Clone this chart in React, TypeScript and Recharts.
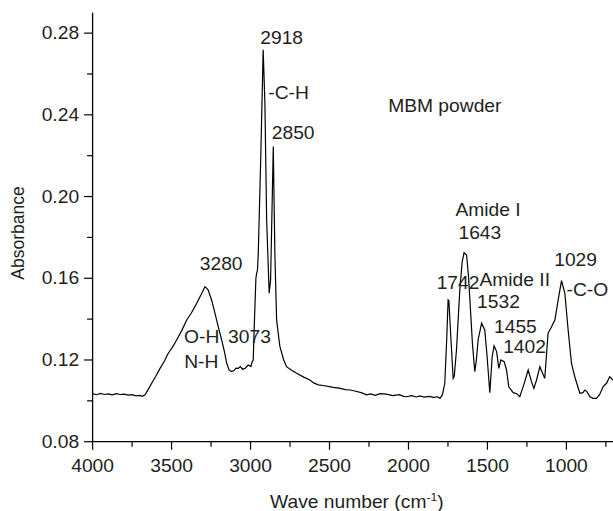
import { LineChart, Line, XAxis, YAxis, ReferenceDot, Label } from 'recharts';

// wave number (cm-1), high to low
const waveNumbers = [
  4000, 3975, 3950, 3925, 3900, 3875, 3850, 3825, 3800, 3775, 3750, 3725, 3700, 3685, 3668,
  3645, 3626, 3600, 3573, 3545, 3521, 3495, 3468, 3435, 3404, 3375, 3352, 3320, 3300, 3289,
  3278, 3268, 3245, 3225, 3205, 3183, 3165, 3151, 3135, 3120, 3105, 3092, 3078, 3065, 3050,
  3035, 3015, 2998, 2990, 2983, 2975, 2966, 2961, 2956, 2951, 2935, 2920, 2909, 2898, 2882,
  2873, 2856, 2846, 2835, 2814, 2790, 2772, 2740, 2708, 2660, 2624, 2600, 2571, 2540, 2500,
  2477, 2440, 2400, 2371, 2340, 2300, 2265, 2240, 2210, 2180, 2139, 2100, 2060, 2030, 2012,
  1980, 1950, 1928, 1900, 1870, 1840, 1815, 1801, 1785, 1770, 1758, 1749, 1744, 1732, 1717,
  1710, 1696, 1675, 1660, 1648, 1632, 1620, 1611, 1595, 1580, 1570, 1559, 1537, 1517, 1502,
  1485, 1470, 1458, 1442, 1428, 1415, 1394, 1379, 1365, 1337, 1315, 1295, 1270, 1242, 1221,
  1206, 1189, 1168, 1151, 1137, 1116, 1094, 1073, 1052, 1031, 1010, 989, 968, 947, 915,
  895, 883, 870, 851, 831, 810, 790, 768, 746, 726, 715, 707, 705,
];

const absorbance = [
  0.1035, 0.103, 0.1036, 0.1031, 0.1034, 0.1029, 0.1035, 0.1031, 0.1033, 0.1028, 0.103, 0.1024, 0.1027, 0.1022, 0.103,
  0.106, 0.1086, 0.112, 0.1159, 0.1195, 0.1233, 0.1262, 0.1298, 0.1345, 0.1396, 0.143, 0.1461, 0.151, 0.154, 0.1559,
  0.1552, 0.1542, 0.149, 0.1428, 0.1365, 0.1298, 0.124, 0.1184, 0.115, 0.1143, 0.1148, 0.116, 0.1159, 0.1168, 0.1155,
  0.1159, 0.1175, 0.1168, 0.119, 0.12, 0.14, 0.16, 0.1625, 0.164, 0.1723, 0.22, 0.2718, 0.2457, 0.1886, 0.1527,
  0.1592, 0.2245, 0.1723, 0.1396, 0.1265, 0.12, 0.1167, 0.115, 0.1135, 0.1115, 0.1102, 0.1088, 0.1078, 0.1075, 0.107,
  0.1066, 0.1062, 0.1055, 0.1053, 0.1048, 0.104, 0.1029, 0.1034, 0.1027, 0.1035, 0.1033, 0.1026, 0.103, 0.1022, 0.102,
  0.1025, 0.1019, 0.1024, 0.1018, 0.1022, 0.1017, 0.102, 0.1012, 0.103, 0.1086, 0.13, 0.1494, 0.149, 0.1314, 0.111,
  0.112, 0.1249, 0.1543, 0.168, 0.1725, 0.1714, 0.161, 0.1494, 0.128, 0.1143, 0.12, 0.1298, 0.138, 0.1347, 0.1216,
  0.104, 0.1216, 0.1269, 0.1241, 0.1159, 0.12, 0.1192, 0.1151, 0.1069, 0.104, 0.1035, 0.102, 0.1078, 0.1151, 0.1094,
  0.1061, 0.1102, 0.1167, 0.1135, 0.111, 0.1331, 0.1363, 0.1396, 0.1494, 0.1588, 0.1527, 0.1347, 0.1184, 0.1118, 0.1037,
  0.104, 0.1053, 0.1045, 0.102, 0.1012, 0.1012, 0.103, 0.1069, 0.1086, 0.1118, 0.111, 0.1102, 0.11,
];

const xTicks = [4000, 3750, 3500, 3250, 3000, 2750, 2500, 2250, 2000, 1750, 1500, 1250, 1000, 750];
const yTicks = [0.08, 0.1, 0.12, 0.14, 0.16, 0.18, 0.2, 0.22, 0.24, 0.26, 0.28];

// peak annotations, placed at (wave number, absorbance) of the text centre
const peakTexts = ['3280', 'O-H', 'N-H', '3073', '2918', '-C-H', '2850', 'MBM powder', 'Amide I', '1643', '1742', 'Amide II', '1532', '1455', '1402', '1029', '-C-O'];
const peakX = [3186, 3309, 3312, 3007, 2803, 2759, 2730, 1770, 1496, 1548, 1686, 1327, 1430, 1323, 1265, 942, 867];
const peakY = [0.167, 0.1311, 0.1189, 0.1311, 0.2775, 0.2506, 0.231, 0.2444, 0.1935, 0.182, 0.1576, 0.1592, 0.1486, 0.1363, 0.1265, 0.169, 0.1543];

const data = waveNumbers.map((w, i) => ({ wave: w, abs: absorbance[i] }));

const FONT = '"Liberation Sans", Arial, Helvetica, sans-serif';
const INK = '#231f20';
const FS = 17.5;

function Txt({ x, y, anchor = 'middle', dy, children }: any) {
  return (
    <text
      transform={`translate(${x},${y}) scale(1.1,1)`}
      textAnchor={anchor}
      dy={dy}
      fontSize={FS}
      fontFamily={FONT}
      fill={INK}
    >
      {children}
    </text>
  );
}

const BottomTick = (props: any) => {
  const { x, y, payload } = props;
  const major = payload.value % 500 === 0;
  return (
    <g>
      <line x1={x} x2={x} y1={y} y2={y + (major ? 8 : 5)} stroke="#000" strokeWidth={1.2} />
      {major && <Txt x={x} y={y + 30}>{payload.value}</Txt>}
    </g>
  );
};

const TopTick = (props: any) => {
  const { x, y, payload } = props;
  const major = payload.value % 500 === 0;
  return <line x1={x} x2={x} y1={y} y2={y + (major ? 8 : 4)} stroke="#000" strokeWidth={1.2} />;
};

const LeftTick = (props: any) => {
  const { x, y, payload } = props;
  const major = Math.round((payload.value - 0.08) / 0.02) % 2 === 0;
  return (
    <g>
      <line x1={x - (major ? 8.5 : 5.5)} x2={x} y1={y} y2={y} stroke="#000" strokeWidth={1.2} />
      {major && (
        <Txt x={x - 13.5} y={y} anchor="end" dy="0.35em">
          {payload.value.toFixed(2)}
        </Txt>
      )}
    </g>
  );
};

const XTitle = (props: any) => {
  const { x, width, y } = props.viewBox;
  return (
    <Txt x={x + width / 2 + 4} y={y + 66}>
      Wave number (cm
      <tspan dy={-7} fontSize={11}>-1</tspan>
      <tspan dy={7}>)</tspan>
    </Txt>
  );
};

const YTitle = () => (
  <text
    transform="translate(18.3,233) rotate(-90)"
    textAnchor="middle"
    dy="0.35em"
    fontSize={FS}
    fontFamily={FONT}
    fill={INK}
  >
    Absorbance
  </text>
);

export default function App() {
  return (
    <div style={{ position: 'fixed', left: 0, top: 0, width: 613, height: 511, overflow: 'hidden', background: '#fff' }}>
      <LineChart width={613} height={511} data={data} margin={{ top: 12.7, right: 0, bottom: 0, left: 0 }}>
        <XAxis
          dataKey="wave"
          type="number"
          domain={[705, 4000]}
          reversed
          allowDataOverflow
          ticks={xTicks}
          interval={0}
          height={69.3}
          tickLine={false}
          tickSize={0}
          tickMargin={0}
          tick={<BottomTick />}
          axisLine={{ stroke: '#000', strokeWidth: 1.3 }}
        >
          <Label content={<XTitle />} />
        </XAxis>
        <XAxis
          xAxisId="top"
          orientation="top"
          type="number"
          domain={[705, 4000]}
          reversed
          allowDataOverflow
          ticks={xTicks}
          interval={0}
          height={0}
          tickLine={false}
          tickSize={0}
          tickMargin={0}
          tick={<TopTick />}
          axisLine={{ stroke: '#000', strokeWidth: 1.3 }}
        />
        <YAxis
          type="number"
          domain={[0.08, 0.29]}
          allowDataOverflow
          ticks={yTicks}
          interval={0}
          width={92.6}
          tickLine={false}
          tickSize={0}
          tickMargin={0}
          tick={<LeftTick />}
          axisLine={{ stroke: '#000', strokeWidth: 1.3 }}
        >
          <Label content={<YTitle />} />
        </YAxis>
        <Line
          type="linear"
          dataKey="abs"
          stroke="#000"
          strokeWidth={1.2}
          dot={false}
          activeDot={false}
          isAnimationActive={false}
        />
        {peakTexts.map((t, i) => (
          <ReferenceDot
            key={t}
            x={peakX[i]}
            y={peakY[i]}
            r={0}
            ifOverflow="visible"
            shape={(p: any) => (
              <Txt x={p.cx} y={p.cy} dy="0.35em">
                {t}
              </Txt>
            )}
          />
        ))}
      </LineChart>
    </div>
  );
}
